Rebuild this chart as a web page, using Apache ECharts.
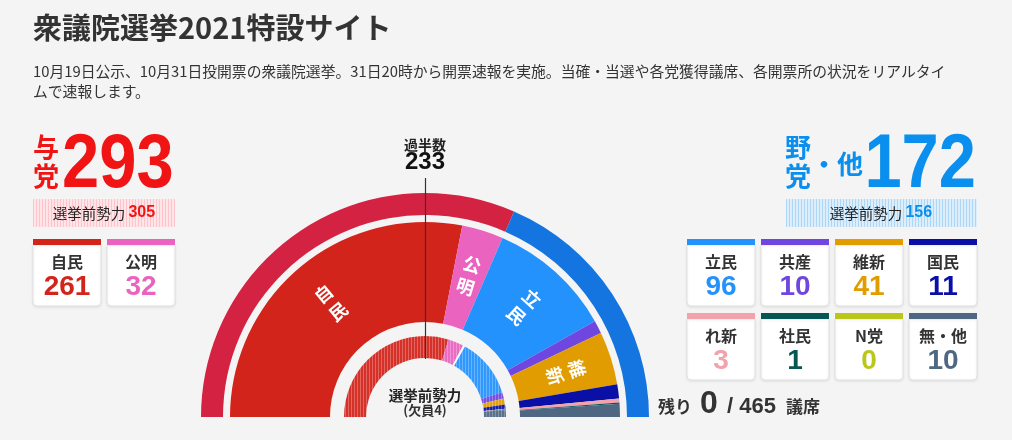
<!DOCTYPE html>
<html><head><meta charset="utf-8">
<script src="https://cdn.jsdelivr.net/npm/echarts@6/dist/echarts.min.js"></script>
<style>html,body{margin:0;padding:0;background:#f4f4f4}#c{width:1012px;height:440px}</style>
</head><body><div id="c"></div>
<script>
// ---- data ----
const titleText = '衆議院選挙2021特設サイト';
const subtitleLines = ['10月19日公示、10月31日投開票の衆議院選挙。31日20時から開票速報を実施。当確・当選や各党獲得議席、各開票所の状況をリアルタイ', 'ムで速報します。'];
const parties = ['自民','公明','立民','共産','維新','国民','れ新','社民','N党','無・他'];
const seats = [261,32,96,10,41,11,3,1,0,10];
const previousSeats = [276,29,110,12,11,8,1,1,0,13];
const vacantSeats = 4;
const rulingPartyCount = 2;
const blocNames = ['与党','野党・他'];
const totalSeats = 465;
const majoritySeats = 233;

// ---- styles ----
const partyColors = ['#d2241b','#ea64bf','#2492fd','#7046e0','#e09c00','#0a0fa5','#f2a2aa','#065653','#b9c61a','#4e6884'];
const blocRingColors = ['#d42342','#1474e0'];
const rulingTextColor = '#f01414';
const oppTextColor = '#0a8fee';
const CJK = '"Noto Sans CJK JP","Noto Sans",sans-serif';
const NUM = '"Liberation Sans",Arial,sans-serif';
const CX = 425, CY = 417;

const rulingSeats = seats.slice(0, rulingPartyCount).reduce((a,b)=>a+b,0);
const oppSeats = seats.slice(rulingPartyCount).reduce((a,b)=>a+b,0);
const rulingPrev = previousSeats.slice(0, rulingPartyCount).reduce((a,b)=>a+b,0);
const oppPrev = previousSeats.slice(rulingPartyCount).reduce((a,b)=>a+b,0);
const remaining = totalSeats - rulingSeats - oppSeats;

function mix(hex, t){
  const n = parseInt(hex.slice(1),16);
  const r=(n>>16)&255,g=(n>>8)&255,b=n&255;
  const f=v=>Math.round(v+(255-v)*t);
  return 'rgb('+f(r)+','+f(g)+','+f(b)+')';
}
function stripes(base, stripe, period){
  const c=document.createElement('canvas'); c.width=period; c.height=4;
  const g=c.getContext('2d'); g.fillStyle=base; g.fillRect(0,0,period,4);
  g.fillStyle=stripe; g.fillRect(0,0,1,4);
  return {image:c, repeat:'repeat'};
}

// main ring data with radial vertical labels
let cum = 0;
const mainData = parties.map((p,i)=>{
  const mid = cum + seats[i]/2; cum += seats[i];
  const theta = 180 - mid/totalSeats*180;
  return {
    name:p, value:seats[i], itemStyle:{color:partyColors[i]},
    label: seats[i] >= 20 ? {show:true, position:'inside', rotate: theta-90,
      formatter: p.split('').join('\n'), color:'#fff', fontSize:18, fontWeight:'bold',
      fontFamily:CJK, lineHeight:23} : {show:false}
  };
});

// inner ring (previous strength) with vacancy between blocs
const innerData = [];
previousSeats.forEach((v,i)=>{
  if (i === rulingPartyCount) innerData.push({name:'欠員', value:vacantSeats, itemStyle:{color:'#ffffff'}});
  innerData.push({name:parties[i], value:v, itemStyle:{color:stripes(mix(partyColors[i],0.06), mix(partyColors[i],0.3), 3)}});
});

const common = {type:'pie', center:[CX,CY], startAngle:180, endAngle:0, silent:true,
  animation:false, avoidLabelOverlap:false, labelLine:{show:false}, label:{show:false},
  emphasis:{disabled:true}, minAngle:0};

const G = [];
function txt(x,y,text,o){
  G.push({type:'text', x, y, z:10, scaleX:o.scaleX||1, style:Object.assign({text, align:o.align||'center', verticalAlign:'middle', fill:o.color||'#333', fontSize:o.size, fontWeight:o.weight||'normal', fontFamily:o.family||CJK}, o.rich?{rich:o.rich}:{})});
}
// title
txt(33,28,titleText,{align:'left',size:29,weight:'bold'});
txt(33,71,subtitleLines[0],{align:'left',size:14.8});
txt(33,91,subtitleLines[1],{align:'left',size:14.8});

// left bloc
txt(46,147,blocNames[0][0],{size:26,weight:'bold',color:rulingTextColor});
txt(46,176,blocNames[0][1],{size:26,weight:'bold',color:rulingTextColor});
txt(62,166,String(rulingSeats),{align:'left',size:76,weight:'bold',family:NUM,color:rulingTextColor,scaleX:0.88});
G.push({type:'rect', z:9, shape:{x:33,y:199,width:142,height:28}, style:{fill:stripes('#ffe4e8','#ffc3cb',3)}});
txt(104,213,'{a|選挙前勢力} {b|'+rulingPrev+'}',{size:14,rich:{a:{fontSize:14.5,fill:'#222',fontFamily:CJK},b:{fontSize:16,fontWeight:'bold',fill:rulingTextColor,fontFamily:NUM}}});

// right bloc
txt(798,147,blocNames[1][0],{size:26,weight:'bold',color:oppTextColor});
txt(798,176,blocNames[1][1],{size:26,weight:'bold',color:oppTextColor});
txt(811,164,blocNames[1].slice(2),{align:'left',size:26,weight:'bold',color:oppTextColor});
txt(976,166,String(oppSeats),{align:'right',size:76,weight:'bold',family:NUM,color:oppTextColor,scaleX:0.88});
G.push({type:'rect', z:9, shape:{x:786,y:199,width:191,height:28}, style:{fill:stripes('#dcedfb','#aed7f5',3)}});
txt(881,213,'{a|選挙前勢力} {b|'+oppPrev+'}',{size:14,rich:{a:{fontSize:14.5,fill:'#222',fontFamily:CJK},b:{fontSize:16,fontWeight:'bold',fill:oppTextColor,fontFamily:NUM}}});

// cards
function card(x,y,i){
  G.push({type:'rect', z:9, shape:{x:x,y:y+6,width:68,height:61,r:[0,0,4,4]}, style:{fill:'#fff',stroke:'#e2e2e2',lineWidth:1,shadowBlur:3,shadowColor:'rgba(0,0,0,0.08)',shadowOffsetY:1}});
  G.push({type:'rect', z:10, shape:{x:x,y:y,width:68,height:6}, style:{fill:partyColors[i]}});
  txt(x+34,y+23,parties[i],{size:16,weight:'bold',color:'#333'});
  txt(x+34,y+48,String(seats[i]),{size:28,weight:'bold',family:NUM,color:partyColors[i]});
}
for (let i=0;i<rulingPartyCount;i++) card(33+i*74,239,i);
for (let i=rulingPartyCount;i<parties.length;i++){
  const k=i-rulingPartyCount; card(687+(k%4)*74, 239+Math.floor(k/4)*74, i);
}

// remaining
txt(658,407,'残り',{align:'left',size:17,weight:'bold'});
txt(700,404,String(remaining),{align:'left',size:32,weight:'bold',family:NUM});
txt(727,407,'/ '+totalSeats,{align:'left',size:22,weight:'bold',family:NUM});
txt(786,407,'議席',{align:'left',size:17,weight:'bold'});

// majority marker
G.push({type:'line', z:20, shape:{x1:CX+0.5,y1:178,x2:CX+0.5,y2:359}, style:{stroke:'#333',lineWidth:1.2}});
txt(CX,145,'過半数',{size:14,weight:'bold',color:'#222'});
txt(CX,162,String(majoritySeats),{size:24,weight:'bold',family:NUM,color:'#111'});
// inner center
txt(CX,395,'選挙前勢力',{size:14.5,weight:'bold',color:'#222'});
txt(CX,410,'(欠員'+vacantSeats+')',{size:13,weight:'bold',color:'#333'});

const chart = echarts.init(document.getElementById('c'), null, {renderer:'canvas'});
chart.setOption({
  backgroundColor:'#f4f4f4',
  animation:false,
  series:[
    Object.assign({}, common, {radius:[202,224], data: blocNames.map((n,i)=>({name:n, value:[rulingSeats,oppSeats][i], itemStyle:{color:blocRingColors[i]}}))}),
    Object.assign({}, common, {radius:[95,195], data: mainData}),
    Object.assign({}, common, {radius:[59,81], data: innerData})
  ],
  graphic: G
});
</script></body></html>
